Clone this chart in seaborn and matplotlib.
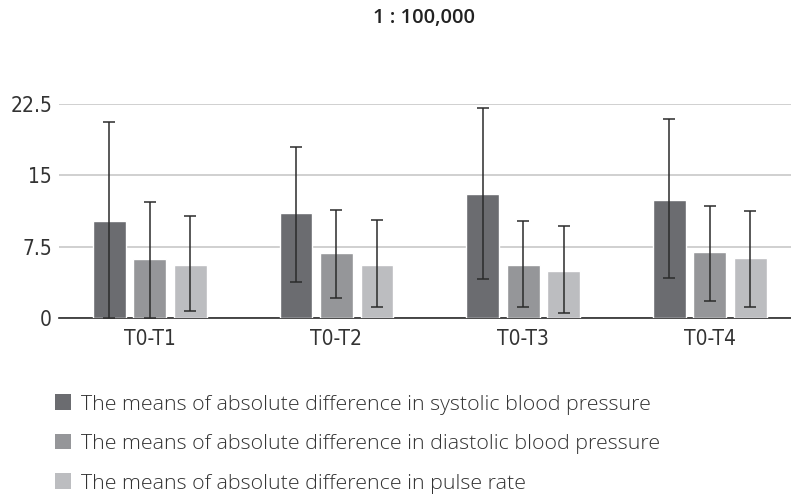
import matplotlib
matplotlib.use("Agg")
import matplotlib.pyplot as plt
import seaborn as sns
import numpy as np
import pandas as pd

categories = ["T0-T1", "T0-T2", "T0-T3", "T0-T4"]
series_names = [
    "The means of absolute difference in systolic blood pressure",
    "The means of absolute difference in diastolic blood pressure",
    "The means of absolute difference in pulse rate",
]
systolic = [10.2, 11.0, 13.0, 12.4]
diastolic = [6.2, 6.8, 5.6, 6.9]
pulse = [5.6, 5.6, 4.9, 6.3]
systolic_low = [0.0, 3.8, 4.1, 4.2]
systolic_high = [20.6, 18.0, 22.0, 20.9]
diastolic_low = [0.0, 2.1, 1.2, 1.8]
diastolic_high = [12.2, 11.3, 10.2, 11.8]
pulse_low = [0.7, 1.2, 0.5, 1.2]
pulse_high = [10.7, 10.3, 9.7, 11.2]
yticks = [0, 7.5, 15, 22.5]
ytick_labels = ["0", "7.5", "15", "22.5"]
title = "1 : 100,000"
colors = ["#6b6c70", "#959699", "#bcbdc0"]

sns.set_theme(style="white")
plt.rcParams["font.family"] = ["Open Sans", "DejaVu Sans"]

df = pd.DataFrame({
    "cat": categories * 3,
    "series": sum([[s] * 4 for s in series_names], []),
    "val": systolic + diastolic + pulse,
})
lows = [systolic_low, diastolic_low, pulse_low]
highs = [systolic_high, diastolic_high, pulse_high]
means = [systolic, diastolic, pulse]

fig = plt.figure(figsize=(7.91, 4.97), dpi=100)
ax = fig.add_axes([59 / 791, (497 - 318) / 497, 744 / 791, 214.3 / 497])
sns.barplot(data=df, x="cat", y="val", hue="series", palette=colors,
            width=0.652, gap=0.19, errorbar=None, ax=ax, legend=True,
            saturation=1, zorder=3)

for cont, m, lo, hi in zip(ax.containers, means, lows, highs):
    xs = [p.get_x() + p.get_width() / 2 for p in cont.patches]
    m = np.array(m)
    yerr = np.vstack([m - np.array(lo), np.array(hi) - m])
    ax.errorbar(xs, m, yerr=yerr, fmt="none", ecolor="#2b2b2b",
                elinewidth=1.1, capsize=4, capthick=1.1, zorder=4)

ax.set_ylim(0, 22.5)
ax.set_xlim(-0.487, 3.5)
ax.set_yticks(yticks)
ax.set_yticklabels(ytick_labels)
ax.yaxis.grid(True, color="#c8c8c8", linewidth=1.2, zorder=0)
ax.set_axisbelow(True)
for s in ["left", "right", "top"]:
    ax.spines[s].set_visible(False)
ax.spines["bottom"].set_color("#2b2b2b")
ax.spines["bottom"].set_linewidth(1.2)
ax.set_xlabel("")
ax.set_ylabel("")
ax.tick_params(axis="both", length=0, labelsize=15, colors="#333333")
ax.tick_params(axis="y", pad=5)
ax.tick_params(axis="x", pad=8)
for lab in ax.get_xticklabels() + ax.get_yticklabels():
    lab.set_family(["DejaVu Sans"])
    lab.set_fontstretch("condensed")
    lab.set_fontweight("light")

handles, labels = ax.get_legend_handles_labels()
ax.get_legend().remove()
leg = fig.legend(handles, labels, loc="upper left", bbox_to_anchor=(36 / 791, 1 - 375 / 497),
                 frameon=False, prop={"size": 15.4, "weight": "light"},
                 handlelength=0.75, handleheight=0.75,
                 handletextpad=0.45, labelspacing=0.9, labelcolor="#333333")
for h in leg.legend_handles:
    h.set_linewidth(0)

fig.text(424 / 791, 1 - 18 / 497, title, ha="center", va="center",
         fontsize=14.5, fontweight="semibold", color="#222222")

fig.savefig("out.png", dpi=100)
